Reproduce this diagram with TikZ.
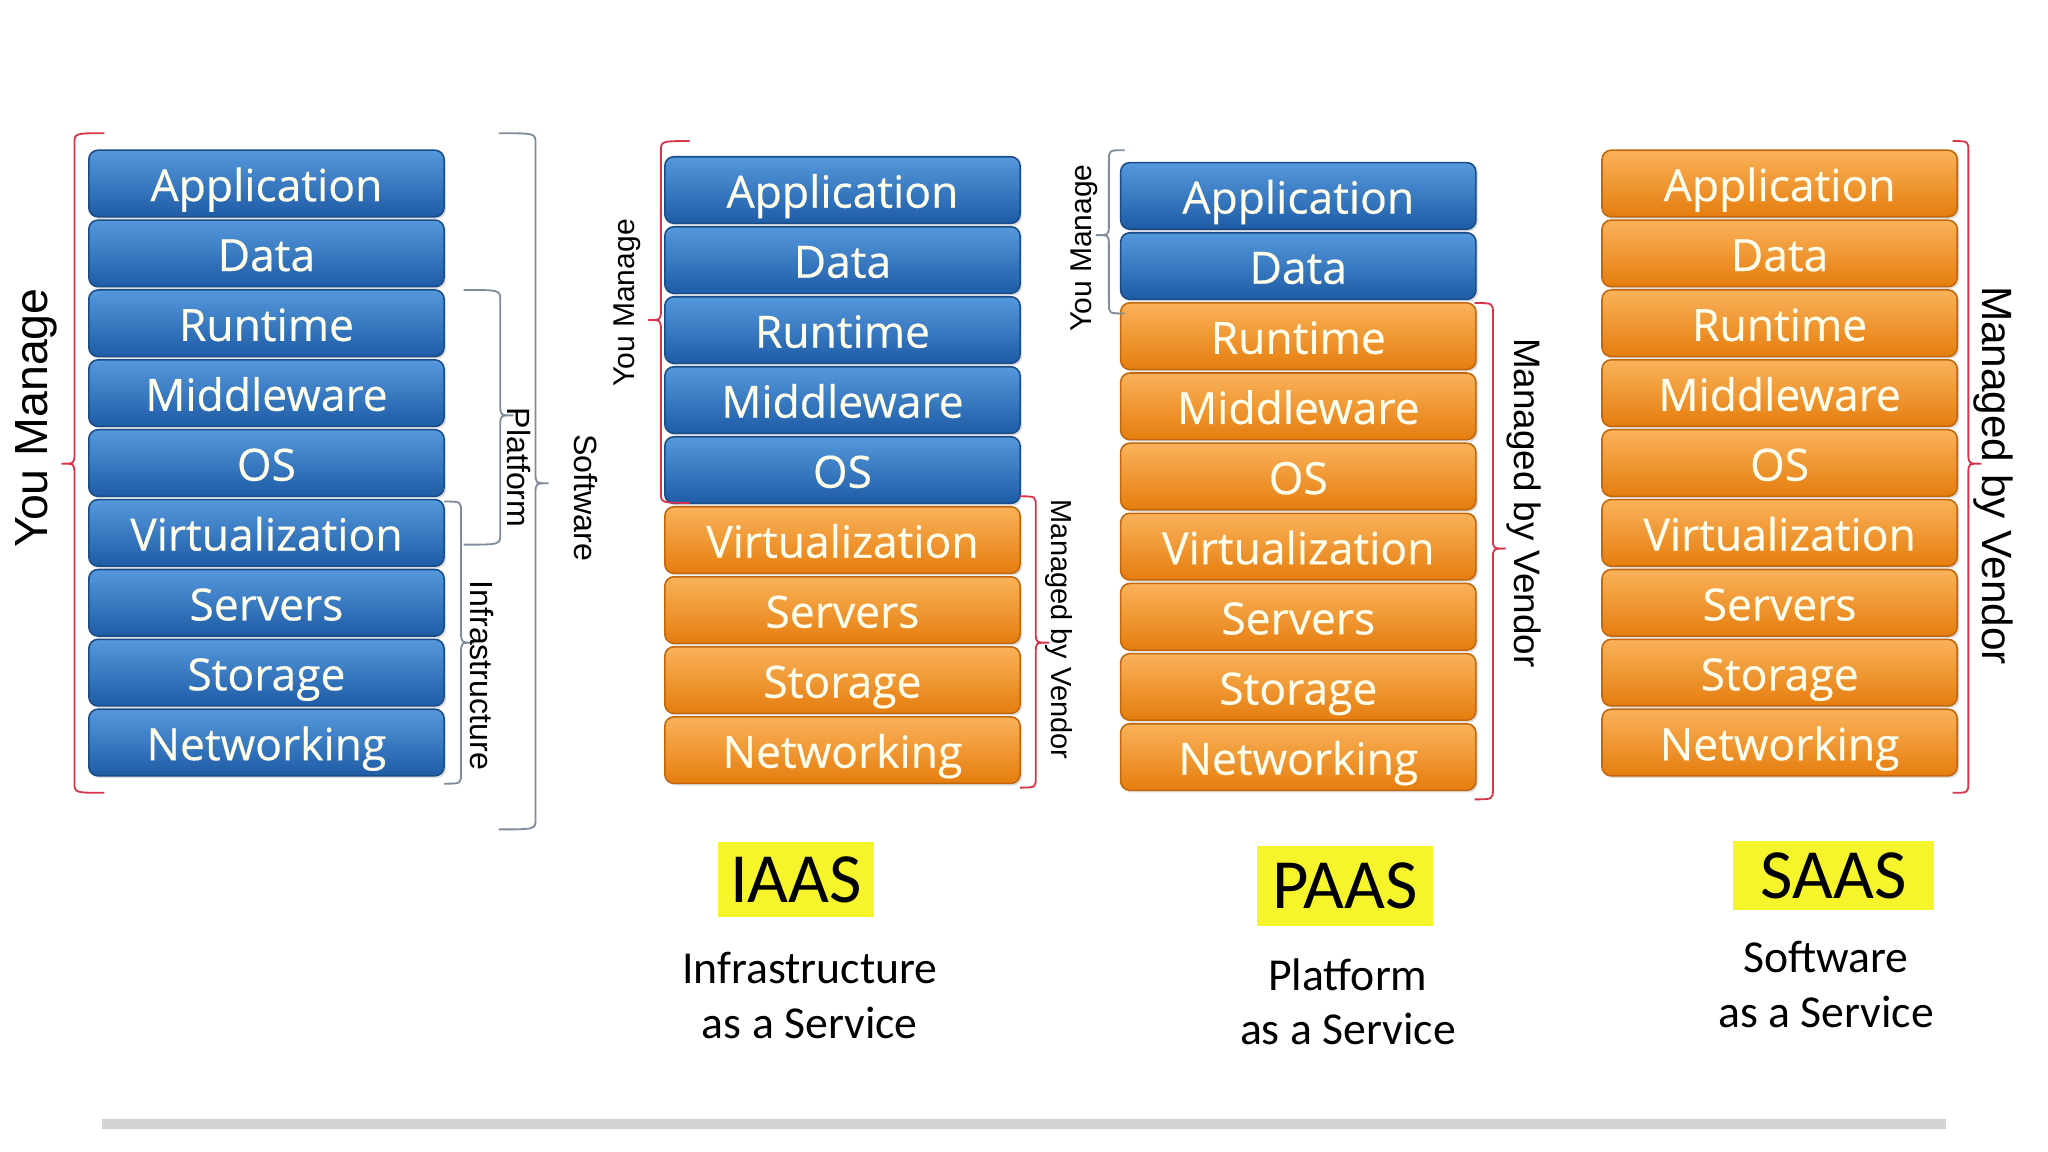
\documentclass[tikz,border=0pt]{standalone}
\usepackage{fontspec}
\setmainfont{Open Sans}
\newfontfamily\boxf{Open Sans}[FakeBold=0.4]
\newfontfamily\calibf{Carlito}
\newfontfamily\arialf{Liberation Sans}
\usetikzlibrary{shadows}

\definecolor{blutop}{HTML}{5598DC}
\definecolor{blubot}{HTML}{1E5CA6}
\definecolor{bluborder}{HTML}{1A4C88}
\definecolor{orgtop}{HTML}{FAB25A}
\definecolor{orgbot}{HTML}{E57D0E}
\definecolor{orgborder}{HTML}{C2670C}
\definecolor{boxtext}{HTML}{FFFDEB}
\definecolor{brred}{HTML}{D8344A}
\definecolor{brgrey}{HTML}{7F8C9C}
\definecolor{hiyel}{HTML}{F6F52C}
\definecolor{rulegrey}{HTML}{D4D4D4}

\tikzset{
  layer/.style={rounded corners=3.5pt, minimum width=136pt, minimum height=25.5pt,
    inner sep=0pt, text=boxtext, font=\boxf\fontsize{17}{17}\selectfont,
    text height=14pt, text depth=0.5pt,
    draw=#1border, line width=0.6pt, top color=#1top, bottom color=#1bot,
    drop shadow={opacity=0.25, shadow xshift=0.8pt, shadow yshift=-0.8pt}},
  sidelab/.style={font=\arialf, text=black, inner sep=0pt},
  brline/.style={line width=0.7pt},
  tag/.style={fill=hiyel, inner sep=0pt, font=\calibf\fontsize{27}{27}\selectfont},
  subt/.style={align=center, font=\calibf\fontsize{17.5}{21}\selectfont, inner sep=0pt}
}

% #1 prefix, #2 x centre, #3 y centre of first box, #4 pitch, #5 number of blue rows
\newcommand{\drawstack}[5]{%
  \foreach \lab [count=\i] in {Application,Data,Runtime,Middleware,OS,Virtualization,Servers,Storage,Networking}{%
    \ifnum\i>#5\relax\def\col{org}\else\def\col{blu}\fi
    \node[layer=\col] (#1-\i) at (#2,{#3+(\i-1)*#4}) {\lab};
  }%
}

% brace: #1 x, #2 y top, #3 y bottom, #4 y tip, #5 dir (1 tip right, -1 tip left), #6 tick length, #7 colour
\newcommand{\brk}[7]{%
  \draw[brline, #7] ({#1-(#5)*(#6)},#2) .. controls (#1,#2) .. (#1,{#2+8})
    -- (#1,{#4-8}) .. controls (#1,#4) .. ({#1+(#5)*10},#4)
    .. controls (#1,#4) .. (#1,{#4+8})
    -- (#1,{#3-8}) .. controls (#1,#3) .. ({#1-(#5)*(#6)},#3);
}

\begin{document}
\begin{tikzpicture}[x=0.5pt, y=-0.5pt]
\useasboundingbox (0,0) rectangle (1568,882);
\fill[white] (0,0) rectangle (1568,882);

% stacks
\drawstack{a}{204}{140.5}{53.5}{9}
\drawstack{b}{645}{145.5}{53.6}{5}
\drawstack{c}{994}{150}{53.7}{2}
\drawstack{d}{1362.5}{140.5}{53.5}{0}

% stack 1 braces and labels
\brk{57}{102}{607}{355}{-1}{23}{brred}
\node[sidelab, rotate=90, font=\arialf\fontsize{17.8}{18}\selectfont] (ym1) at (28,320) {You Manage};
\brk{353}{384}{600}{492}{1}{13}{brgrey}
\node[sidelab, rotate=-90, font=\arialf\fontsize{12.3}{13}\selectfont] (inf1) at (369,517) {Infrastructure};
\brk{383}{222}{417}{318}{1}{28}{brgrey}
\node[sidelab, rotate=-90, font=\arialf\fontsize{12.3}{13}\selectfont] (pla1) at (397,358) {Platform};
\brk{410}{102}{635}{370}{1}{28}{brgrey}
\node[sidelab, rotate=-90, font=\arialf\fontsize{12.3}{13}\selectfont] (sof1) at (449,381) {Software};

% stack 2
\brk{506}{108}{385}{245}{-1}{22}{brred}
\node[sidelab, rotate=90, font=\arialf\fontsize{11.5}{12}\selectfont] (ym2) at (480,232) {You Manage};
\brk{793}{380}{603}{492}{1}{12}{brred}
\node[sidelab, rotate=-90, font=\arialf\fontsize{11.1}{12}\selectfont] (mv2) at (811,482) {Managed by Vendor};

% stack 3
\brk{849}{115}{240}{180}{-1}{12}{brgrey}
\node[sidelab, rotate=90, font=\arialf\fontsize{11.5}{12}\selectfont] (ym3) at (830,190) {You Manage};
\brk{1143}{232}{612}{420}{1}{14}{brred}
\node[sidelab, rotate=-90, font=\arialf\fontsize{14.1}{15}\selectfont] (mv3) at (1167,385) {Managed by Vendor};

% stack 4
\brk{1507}{108}{607}{355}{1}{12}{brred}
\node[sidelab, rotate=-90, font=\arialf\fontsize{16.2}{17}\selectfont] (mv4) at (1526,364) {Managed by Vendor};

% bottom labels
\node[tag, minimum width=59.5pt, minimum height=28.5pt] (iaas) at (609.5,673.5) {IAAS};
\node[tag, minimum width=67.5pt, minimum height=30.5pt] (paas) at (1029.5,678.5) {PAAS};
\node[tag, minimum width=77pt, minimum height=26.5pt] (saas) at (1404,670.5) {SAAS};
\node[subt] (iaast) at (620,762) {Infrastructure\\as a Service};
\node[subt] (paast) at (1032,767) {Platform\\as a Service};
\node[subt] (saast) at (1398,754) {Software\\as a Service};

% bottom rule
\fill[rulegrey] (78,857) rectangle (1490,864);
\end{tikzpicture}
\end{document}
